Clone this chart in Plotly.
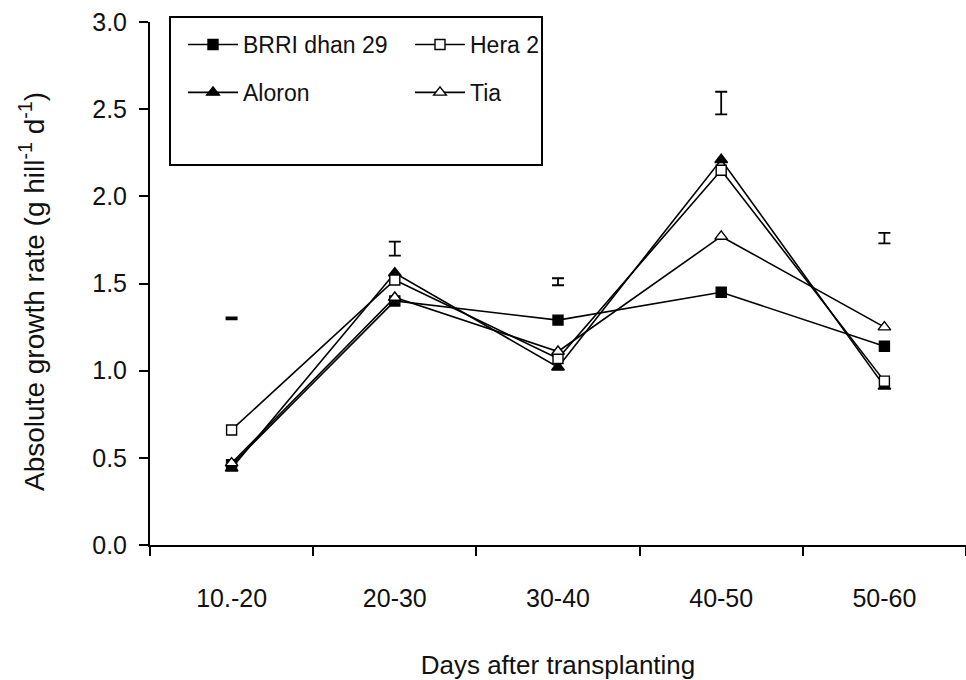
import plotly.graph_objects as go

categories = ["10.-20", "20-30", "30-40", "40-50", "50-60"]
brri = [0.46, 1.40, 1.29, 1.45, 1.14]
hera = [0.66, 1.52, 1.07, 2.15, 0.94]
aloron = [0.44, 1.56, 1.02, 2.21, 0.91]
tia = [0.47, 1.42, 1.11, 1.77, 1.25]
err_center = [1.30, 1.70, 1.51, 2.535, 1.76]
err_half = [0.005, 0.04, 0.02, 0.065, 0.03]

FONT = "Liberation Sans, Arial, sans-serif"

fig = go.Figure()

def add(name, y, symbol, fill, legend, group):
    fig.add_trace(go.Scatter(
        x=categories, y=y, name=name, mode="lines+markers",
        line=dict(color="black", width=1.6),
        marker=dict(symbol=symbol, size=10 if "square" in symbol else 11,
                    color=fill, line=dict(color="black", width=1.4)),
        legend=legend, legendgroup=group,
    ))

add("BRRI dhan 29", brri, "square", "black", "legend", "a")
add("Aloron", aloron, "triangle-up", "black", "legend", "b")
add("Hera 2", hera, "square", "white", "legend2", "c")
add("Tia", tia, "triangle-up", "white", "legend2", "d")

fig.add_trace(go.Scatter(
    x=categories, y=err_center, mode="markers", showlegend=False,
    marker=dict(size=1, color="rgba(0,0,0,0)"),
    error_y=dict(type="data", array=err_half, visible=True,
                 color="black", thickness=1.8, width=6),
    hoverinfo="skip",
))

legend_common = dict(
    bgcolor="rgba(0,0,0,0)", borderwidth=0,
    font=dict(family=FONT, size=23, color="#111"),
    orientation="v", traceorder="grouped", tracegroupgap=15,
    xanchor="left", yanchor="top", itemwidth=50,
)

fig.update_layout(
    width=966, height=680,
    margin=dict(l=150, r=0, t=22, b=135),
    paper_bgcolor="white", plot_bgcolor="white",
    font=dict(family=FONT, color="#111"),
    legend=dict(x=(183 - 150) / 816, y=0.998, **legend_common),
    legend2=dict(x=(410 - 150) / 816, y=0.998, **legend_common),
    shapes=[dict(type="rect", xref="paper", yref="paper",
                 x0=(170 - 150) / 816, x1=(542 - 150) / 816,
                 y0=(545 - 165) / 523, y1=(545 - 17) / 523,
                 line=dict(color="black", width=2), fillcolor="rgba(0,0,0,0)")],
    annotations=[dict(
        text="Absolute growth rate (g hill<sup>-1</sup> d<sup>-1</sup>)",
        xref="paper", yref="paper",
        x=(32 - 150) / 816, y=(545 - 292) / 523,
        xanchor="center", yanchor="middle", textangle=-90, showarrow=False,
        font=dict(family=FONT, size=28, color="#111"),
    )],
)

fig.update_xaxes(
    type="category", range=[-0.5, 4.5],
    showline=True, linecolor="black", linewidth=2,
    ticks="outside", tickson="boundaries", ticklen=9, tickwidth=2, tickcolor="black",
    showgrid=False, zeroline=False,
    tickfont=dict(family=FONT, size=25, color="#111"),
    ticklabelstandoff=30,
    title=dict(text="Days after transplanting", font=dict(family=FONT, size=26, color="#111"),
               standoff=45),
)
fig.update_yaxes(
    range=[0, 3.0], dtick=0.5, tickformat=".1f",
    showline=True, linecolor="black", linewidth=2,
    ticks="outside", ticklen=9, tickwidth=2, tickcolor="black",
    showgrid=False, zeroline=False,
    tickfont=dict(family=FONT, size=25, color="#111"),
    ticklabelstandoff=7,
)

fig.write_html("out.html")
